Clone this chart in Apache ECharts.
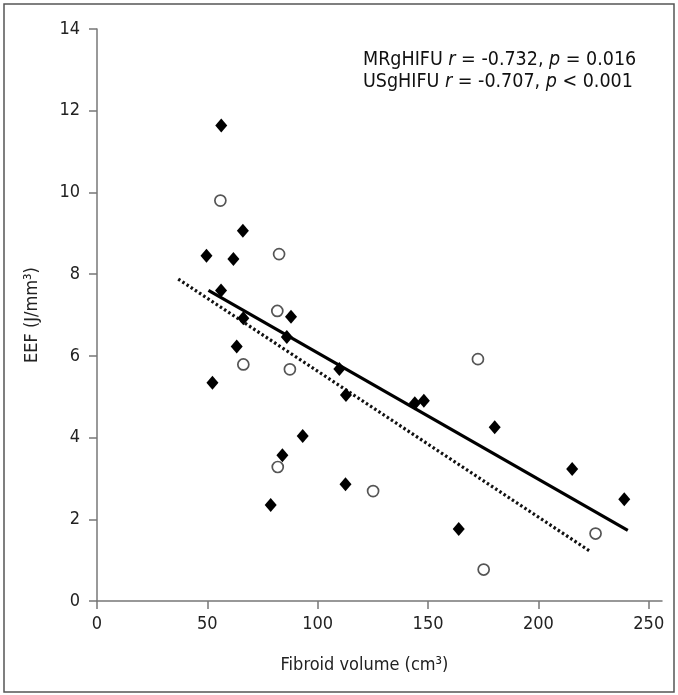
<!DOCTYPE html>
<html>
<head>
<meta charset="utf-8">
<script src="https://cdn.jsdelivr.net/npm/echarts@6/dist/echarts.min.js"></script>
<style>
html,body{margin:0;padding:0;background:#fff;}
#chart{width:678px;height:695px;}
</style>
</head>
<body>
<div id="chart"></div>
<script>
// USgHIFU (filled diamonds): [fibroid volume, EEF]
const usgVolume = [56.3, 66.1, 49.6, 61.8, 56.2, 66.3, 87.9, 86.0, 63.3, 52.3, 109.8, 112.8, 93.2, 84.0, 112.6, 78.7, 144.0, 148.1, 180.2, 215.3, 238.9, 163.9];
const usgEEF    = [11.64, 9.06, 8.45, 8.37, 7.60, 6.92, 6.96, 6.46, 6.23, 5.34, 5.68, 5.04, 4.04, 3.57, 2.86, 2.35, 4.84, 4.90, 4.25, 3.23, 2.49, 1.76];
// MRgHIFU (open circles)
const mrgVolume = [55.9, 82.5, 81.7, 66.3, 87.4, 81.9, 125.1, 172.6, 225.9, 175.2];
const mrgEEF    = [9.80, 8.49, 7.10, 5.79, 5.67, 3.28, 2.69, 5.92, 1.65, 0.77];
// Fitted regression lines (end points)
const usgFitX = [50.5, 240.5];
const usgFitY = [7.60, 1.73];
const mrgFitX = [36.8, 223.9];
const mrgFitY = [7.88, 1.20];
// Axis ticks
const xTicks = [0, 50, 100, 150, 200, 250];
const yTicks = [0, 2, 4, 6, 8, 10, 12, 14];

const zip = (a, b) => a.map((v, i) => [v, b[i]]);
const FONT = '"Liberation Sans Narrow", "DejaVu Sans Condensed", "Open Sans", sans-serif';

const chart = echarts.init(document.getElementById('chart'), null, {renderer: 'canvas'});
chart.setOption({
  animation: false,
  backgroundColor: '#fff',
  grid: {left: 97, top: 29, right: 16, bottom: 94, containLabel: false},
  xAxis: {
    type: 'value', min: 0, max: 256, interval: 50,
    name: 'Fibroid volume (cm³)', nameLocation: 'middle', nameGap: 55,
    nameTextStyle: {fontFamily: FONT, fontSize: 18, color: '#222', padding: [0, 30, 0, 0]},
    axisLine: {show: true, onZero: false, lineStyle: {color: '#777', width: 1.5}},
    axisTick: {show: true, length: 8, lineStyle: {color: '#777', width: 1.5}, customValues: xTicks},
    axisLabel: {fontFamily: FONT, fontSize: 18, color: '#222', margin: 14, customValues: xTicks},
    splitLine: {show: false}
  },
  yAxis: {
    type: 'value', min: 0, max: 14, interval: 2,
    name: 'EEF (J/mm³)', nameLocation: 'middle', nameGap: 56, nameRotate: 90,
    nameTextStyle: {fontFamily: FONT, fontSize: 18, color: '#222', padding: [0, 0, 0, 0]},
    axisLine: {show: true, onZero: false, lineStyle: {color: '#777', width: 1.5}},
    axisTick: {show: true, length: 8, lineStyle: {color: '#777', width: 1.5}, customValues: yTicks},
    axisLabel: {fontFamily: FONT, fontSize: 18, color: '#222', margin: 17, customValues: yTicks},
    splitLine: {show: false}
  },
  series: [
    {
      name: 'MRgHIFU fit', type: 'line', data: zip(mrgFitX, mrgFitY), symbol: 'none',
      lineStyle: {color: '#111', width: 3.2, type: [2.5, 2.5]}, z: 2
    },
    {
      name: 'USgHIFU fit', type: 'line', data: zip(usgFitX, usgFitY), symbol: 'none',
      lineStyle: {color: '#000', width: 3.2}, z: 2
    },
    {
      name: 'MRgHIFU', type: 'scatter', data: zip(mrgVolume, mrgEEF),
      symbol: 'circle', symbolSize: 11,
      itemStyle: {color: '#fff', borderColor: '#555', borderWidth: 1.7, opacity: 1}, z: 3
    },
    {
      name: 'USgHIFU', type: 'scatter', data: zip(usgVolume, usgEEF),
      symbol: 'diamond', symbolSize: [12, 14],
      itemStyle: {color: '#000', opacity: 1}, z: 4
    }
  ],
  graphic: [
    {
      type: 'rect', shape: {x: 4, y: 4, width: 670, height: 688},
      style: {fill: 'none', stroke: '#555', lineWidth: 1.5}, silent: true, z: 0
    },
    {
      type: 'text', left: 363, top: 50,
      style: {
        text: 'MRgHIFU {i|r} = -0.732, {i|p} = 0.016',
        font: '19.5px ' + FONT, fill: '#111',
        rich: {i: {fontStyle: 'italic', fontFamily: FONT, fontSize: 19.5, fill: '#111'}}
      }
    },
    {
      type: 'text', left: 363, top: 72,
      style: {
        text: 'USgHIFU {i|r} = -0.707, {i|p} < 0.001',
        font: '19.5px ' + FONT, fill: '#111',
        rich: {i: {fontStyle: 'italic', fontFamily: FONT, fontSize: 19.5, fill: '#111'}}
      }
    }
  ]
});
</script>
</body>
</html>
